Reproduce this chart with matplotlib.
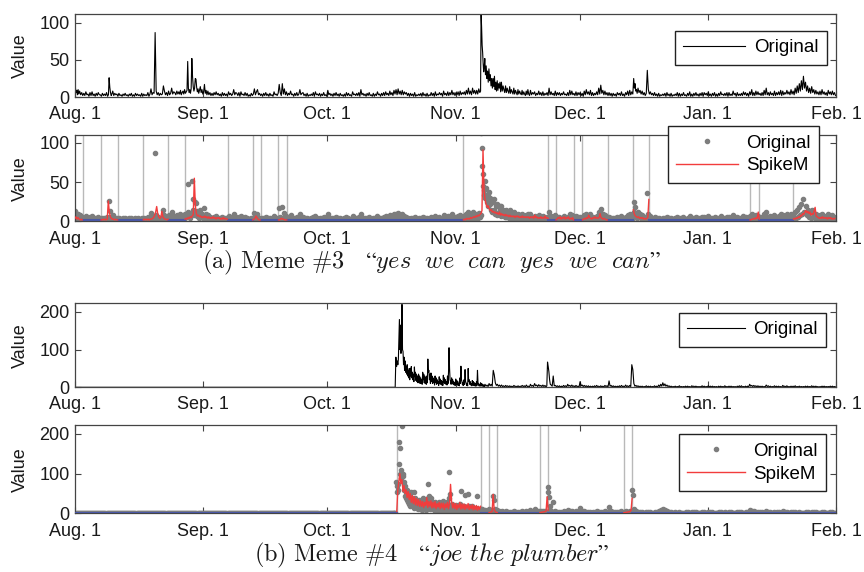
import numpy as np
import matplotlib
matplotlib.use("Agg")
import matplotlib.pyplot as plt
from matplotlib.lines import Line2D

plt.rcParams['font.family'] = ['Liberation Sans', 'DejaVu Sans']
plt.rcParams['mathtext.fontset'] = 'cm'

# ---------------- axis labels ----------------
month_ticks = [0, 31, 61, 92, 122, 153, 184]
month_labels = ['Aug. 1', 'Sep. 1', 'Oct. 1', 'Nov. 1', 'Dec. 1', 'Jan. 1', 'Feb. 1']
m3_yticks = [0, 50, 100]
m4_yticks = [0, 100, 200]

# ---------------- Meme #3 original counts (one row per day, Aug 1 .. Jan 31) ----------------
m3_rows = [
    # Aug
    [13, 6, 9, 3, 10, 4], [8, 3, 6, 2], [5, 2, 7, 3], [4, 1, 6, 2], [7, 2, 4, 1], [5, 2, 6, 3], [3, 1, 5, 2],
    [4, 2, 6, 1], [3, 26, 13, 6, 2, 4], [8, 2, 5, 3], [4, 1, 5, 2], [3, 1, 4, 2], [5, 2, 3, 1], [4, 2, 5, 1],
    [3, 1, 5, 2], [4, 2, 3, 1], [5, 1, 4, 2], [3, 2, 6, 1], [4, 11, 3, 6], [5, 87, 8, 3], [6, 2, 5, 3],
    [4, 15, 8, 3], [6, 2, 8, 3], [5, 12, 4, 7], [6, 3, 8, 4], [7, 4, 9, 3, 6], [8, 4, 10, 5, 7],
    [9, 48, 12, 6, 10, 5], [11, 52, 28, 14, 8, 12], [25, 24, 13, 7, 11, 5], [9, 14, 6, 10, 4],
    # Sep
    [7, 17, 5, 9, 3], [8, 3, 6, 2], [5, 2, 6, 3], [7, 3, 5, 2], [4, 1, 6, 2], [5, 2, 4, 1], [7, 3, 5, 2],
    [4, 10, 3, 6], [5, 2, 6, 1], [7, 3, 4, 2], [6, 2, 5, 1], [3, 1, 5, 2], [4, 11, 3, 7], [10, 3, 5, 2],
    [4, 1, 5, 2], [6, 2, 4, 1], [5, 2, 3, 1], [7, 3, 4, 2], [5, 17, 6, 2], [18, 4, 11, 3], [7, 2, 5, 3],
    [8, 3, 4, 1], [5, 2, 6, 2], [4, 10, 3, 5], [6, 2, 4, 1], [5, 1, 3, 2], [4, 2, 6, 1], [7, 3, 4, 2],
    [5, 1, 4, 2], [6, 2, 3, 1],
    # Oct
    [9, 3, 5, 2], [4, 1, 5, 2], [6, 2, 4, 1], [5, 2, 3, 1], [4, 1, 6, 2], [5, 2, 3, 1], [7, 3, 4, 2],
    [5, 2, 6, 1], [10, 3, 5, 2], [4, 1, 5, 2], [6, 2, 3, 1], [5, 1, 4, 2], [7, 3, 4, 1], [5, 2, 6, 2],
    [7, 3, 5, 2], [8, 3, 6, 2], [9, 4, 10, 3], [11, 4, 8, 3], [9, 3, 7, 4], [6, 2, 5, 1], [5, 2, 4, 1],
    [6, 1, 3, 2], [4, 2, 5, 1], [6, 2, 4, 1], [5, 1, 3, 2], [6, 2, 5, 1], [7, 2, 4, 3], [6, 3, 5, 1],
    [8, 3, 5, 2], [7, 2, 6, 3], [9, 3, 6, 2],
    # Nov
    [6, 3, 7, 2], [8, 3, 6, 4], [7, 3, 9, 4], [12, 4, 8, 3], [12, 5, 9, 4], [9, 4, 11, 6],
    [8, 113, 94, 70, 60, 45, 34, 40], [52, 30, 42, 25, 35, 20], [38, 22, 30, 15, 25, 12],
    [25, 14, 28, 10, 20, 8], [22, 9, 18, 12, 20, 7], [20, 8, 15, 10, 6], [15, 6, 12, 8, 5],
    [14, 5, 10, 7, 4], [12, 4, 9, 6, 3], [10, 4, 8, 5, 3], [9, 3, 7, 4, 2], [8, 3, 10, 4, 2],
    [9, 3, 6, 4], [7, 2, 5, 3], [8, 3, 6, 2], [7, 2, 5, 3], [6, 2, 12, 3], [7, 3, 5, 2], [8, 2, 6, 3],
    [6, 2, 5, 3], [7, 3, 4, 2], [6, 2, 9, 3], [8, 3, 5, 2], [7, 2, 6, 3],
    # Dec
    [6, 2, 5, 1], [8, 3, 10, 4], [7, 3, 9, 2], [6, 2, 5, 3], [7, 3, 12, 4], [16, 5, 9, 3], [8, 3, 6, 2],
    [6, 2, 5, 1], [5, 2, 4, 1], [6, 3, 5, 2], [7, 2, 4, 1], [6, 3, 8, 2], [9, 3, 7, 4],
    [25, 12, 18, 8, 10, 5], [12, 6, 9, 4], [8, 3, 6, 2], [5, 36, 10, 4], [7, 3, 5, 2], [6, 2, 4, 1],
    [5, 1, 3, 2], [4, 2, 5, 1], [6, 2, 4, 1], [5, 1, 3, 2], [4, 2, 6, 1], [5, 1, 4, 2], [6, 2, 3, 1],
    [5, 2, 7, 1], [4, 1, 5, 2], [6, 2, 4, 1], [5, 2, 6, 1], [6, 3, 5, 2],
    # Jan
    [7, 2, 4, 1], [5, 2, 6, 1], [4, 1, 5, 2], [7, 3, 4, 2], [5, 2, 6, 1], [6, 2, 4, 2], [8, 3, 5, 1],
    [6, 2, 4, 2], [5, 2, 7, 3], [6, 2, 5, 1], [7, 3, 10, 2], [6, 2, 8, 3], [7, 3, 5, 2], [6, 2, 9, 3],
    [12, 3, 6, 2], [7, 3, 5, 2], [8, 2, 6, 3], [7, 3, 9, 2], [8, 3, 6, 4], [9, 4, 7, 3], [10, 4, 8, 3],
    [12, 5, 15, 6], [18, 8, 22, 10], [28, 12, 20, 8], [15, 6, 12, 5], [14, 6, 10, 4], [9, 4, 7, 3],
    [8, 3, 10, 4], [7, 3, 6, 2], [9, 4, 7, 3], [8, 3, 6, 2],
]

# SpikeM fit of Meme #3: segment (start, end) in days and fitted values (4 per day)
m3_seg_bounds = [(0.0, 2.0), (6.3, 10.3), (16.5, 22.6), (26.6, 36.9), (43.0, 44.9), (49.2, 51.3),
                 (93.9, 114.4), (116.3, 120.6), (122.7, 128.9), (135.0, 138.8), (163.2, 165.5),
                 (173.7, 184.0)]
m3_seg_values = [
    [4, 6, 3, 5, 3, 2, 3, 2],
    [2, 2, 3, 2, 3, 2, 3, 26, 12, 6, 4, 3, 3, 2, 3, 2, 2],
    [2, 3, 2, 3, 2, 3, 2, 3, 3, 4, 5, 8, 12, 19, 10, 6, 4, 5, 13, 6, 4, 3, 3, 2, 3],
    [3, 4, 3, 5, 4, 6, 5, 7, 9, 55, 20, 10, 7, 8, 6, 7, 5, 6, 5, 7, 5, 6, 4, 6, 4, 5, 4, 6, 4, 5,
     3, 5, 4, 5, 3, 4, 3, 5, 3, 4, 3, 3],
    [2, 3, 4, 7, 5, 3, 2, 2],
    [2, 2, 3, 4, 3, 3, 2, 2, 2],
    [2, 3, 2, 4, 3, 4, 3, 5, 4, 5, 6, 5, 7, 6, 8, 7, 9, 10, 14, 91, 40, 28, 22, 18, 20, 16, 14, 15,
     12, 13, 11, 12, 10, 11, 9, 12, 8, 10, 8, 9, 7, 9, 7, 8, 6, 8, 6, 7, 6, 7, 5, 7, 6, 7, 5, 6, 5,
     7, 5, 6, 5, 6, 5, 6, 4, 6, 5, 6, 4, 8, 5, 6, 4, 5, 4, 6, 4, 5, 4, 7, 4, 5, 4],
    [2, 3, 5, 4, 6, 3, 5, 4, 6, 3, 5, 4, 6, 3, 4, 3, 5, 2],
    [2, 3, 4, 3, 5, 4, 8, 5, 4, 3, 5, 4, 6, 4, 5, 4, 5, 10, 5, 4, 3, 4, 3, 2, 2],
    [15, 9, 7, 6, 5, 6, 4, 5, 4, 5, 3, 4, 3, 4, 5, 28],
    [2, 2, 3, 3, 4, 3, 5, 4, 12, 3],
    [3, 4, 3, 5, 4, 6, 5, 8, 7, 10, 9, 12, 14, 11, 13, 10, 12, 8, 10, 9, 13, 18, 7, 6, 5, 4, 5, 4,
     6, 4, 5, 4, 5, 3, 5, 4, 5, 3, 4, 3, 4],
]
m3_noise_level = 2.5

# ---------------- Meme #4 original counts ----------------
m4_quiet_days = 77
m4_rows = [[0, 0, 0, 0]] * m4_quiet_days + [
    # Oct 17 ..
    [0, 0, 0, 80, 55, 70],
    [60, 75, 125, 180, 100, 165, 90, 110], [220, 100, 95, 60, 80, 45, 70, 40],
    [55, 35, 60, 30, 45, 25, 50, 20], [50, 30, 55, 25, 40, 20, 35, 15], [54, 28, 40, 18, 35, 15, 30, 12],
    [35, 15, 30, 10, 25, 12, 20, 8], [40, 20, 35, 12, 30, 10, 25, 8], [30, 12, 75, 40, 45, 20, 35, 10],
    [38, 15, 30, 10, 25, 12, 20, 6], [30, 12, 25, 8, 20, 10, 15, 5], [28, 10, 22, 8, 18, 6, 15, 5],
    [32, 12, 25, 10, 20, 8, 15, 6], [30, 10, 40, 105, 50, 20, 15, 8], [25, 10, 20, 8, 15, 6, 12, 5],
    [22, 8, 18, 6, 15, 5, 10, 4], [25, 10, 56, 20, 15, 6, 12, 5], [20, 8, 47, 15, 12, 5, 10, 4],
    [50, 15, 20, 8, 15, 6, 10, 4], [18, 6, 15, 5, 12, 4, 10, 3], [15, 5, 45, 12, 10, 4, 8, 3],
    [12, 4, 10, 3, 8, 3, 6, 2],
    # Nov 8 ..
    [8, 3, 6, 2], [10, 4, 8, 3], [45, 33, 12, 5], [8, 3, 6, 2], [6, 2, 4, 1], [5, 2, 4, 1], [4, 1, 3, 1],
    [5, 2, 3, 1], [4, 1, 3, 2], [5, 2, 4, 1], [6, 2, 3, 1], [8, 3, 5, 2], [10, 4, 6, 2], [7, 3, 5, 2],
    [6, 2, 5, 1], [4, 67, 55, 41, 20, 8], [6, 3, 30, 4], [5, 2, 4, 1], [4, 1, 3, 1], [5, 2, 4, 1],
    [8, 3, 5, 2], [6, 2, 4, 1], [5, 2, 3, 1],
    # Dec
    [15, 4, 6, 2], [5, 2, 4, 1], [4, 1, 3, 1], [3, 1, 4, 1], [5, 2, 3, 1], [4, 1, 3, 1], [5, 2, 4, 1],
    [17, 3, 5, 1], [4, 1, 3, 1], [3, 1, 4, 1], [5, 2, 3, 1], [6, 2, 4, 1], [5, 2, 60, 47], [10, 3, 5, 2],
    [4, 1, 3, 1], [3, 1, 2, 1], [4, 1, 3, 1], [3, 1, 2, 1], [4, 1, 3, 1], [6, 2, 8, 3], [12, 4, 9, 3],
    [6, 2, 4, 1], [3, 1, 2, 1], [3, 1, 2, 1], [4, 1, 2, 1], [2, 1, 3, 1], [3, 1, 2, 0], [4, 2, 3, 1],
    [3, 1, 2, 1], [2, 1, 4, 1], [3, 1, 2, 1],
    # Jan
    [4, 1, 3, 1], [3, 1, 2, 1], [2, 0, 3, 1], [3, 1, 2, 1], [4, 1, 2, 1], [3, 1, 3, 1], [2, 1, 2, 0],
    [3, 1, 4, 1], [4, 1, 2, 1], [3, 1, 3, 1], [8, 3, 5, 2], [5, 2, 4, 1], [4, 1, 3, 1], [3, 1, 2, 1],
    [6, 2, 4, 1], [3, 1, 2, 1], [4, 1, 3, 1], [3, 1, 2, 0], [5, 2, 3, 1], [4, 1, 2, 1], [3, 1, 3, 1],
    [4, 1, 2, 1], [3, 1, 2, 1], [2, 1, 3, 1], [3, 1, 2, 1], [4, 1, 3, 1], [3, 1, 2, 0], [2, 1, 3, 1],
    [3, 1, 2, 1], [2, 1, 3, 1], [3, 1, 2, 1],
]

m4_seg_bounds = [(77.8, 98.1), (100.1, 102.1), (112.4, 114.4), (132.7, 134.7)]
m4_seg_values = [
    [5, 60, 80, 100, 75, 85, 55, 70, 50, 60, 40, 55, 35, 50, 28, 45, 25, 42, 22, 38, 20, 35, 18, 32,
     18, 30, 15, 28, 20, 40, 15, 30, 18, 32, 14, 28, 15, 30, 12, 25, 16, 28, 12, 26, 14, 26, 10, 24,
     15, 28, 12, 25, 73, 30, 14, 26, 12, 25, 10, 22, 14, 28, 11, 24, 12, 24, 10, 22, 13, 25, 10, 20,
     12, 22, 9, 20, 10, 20, 8, 18, 10, 18],
    [2, 3, 4, 5, 48, 10, 5, 3, 2],
    [2, 3, 3, 4, 4, 5, 6, 42, 8],
    [2, 2, 3, 3, 4, 4, 5, 8, 38],
]
m4_noise_level = 1.0

assert len(m3_rows) == 184, len(m3_rows)
assert len(m4_rows) == 184, len(m4_rows)

# ---------------- styling ----------------
C_DOT = '#7d7d7d'
C_RED = '#f23c3c'
C_BLUE = '#4a58a6'
C_VLINE = '#b9b9b9'
C_SPINE = '#444444'
STEP = 0.25


def flatten(rows):
    t, v = [], []
    for d, row in enumerate(rows):
        n = len(row)
        for j, val in enumerate(row):
            t.append(d + (j + 0.5) / n)
            v.append(val)
    return np.array(t), np.array(v, dtype=float)


def style_axes(ax, ylim, yticks):
    ax.set_xlim(month_ticks[0], month_ticks[-1])
    ax.set_ylim(*ylim)
    ax.set_xticks(month_ticks)
    ax.set_xticklabels(month_labels)
    ax.set_yticks(yticks)
    ax.tick_params(direction='in', top=True, right=True, length=4, width=0.8,
                   color=C_SPINE, labelcolor='#1a1a1a', labelsize=13)
    ax.tick_params(axis='x', pad=6.5)
    ax.tick_params(axis='y', pad=4)
    for s in ax.spines.values():
        s.set_color(C_SPINE)
        s.set_linewidth(0.9)
    ax.set_ylabel('Value', fontsize=13, color='#1a1a1a')
    ax.yaxis.set_label_coords(-0.061, 0.5)


def make_legend(ax, handles, labels, anchor, hlen):
    leg = ax.legend(handles, labels, loc='upper right', bbox_to_anchor=anchor,
                    bbox_transform=ax.figure.transFigure, fontsize=13.5, handlelength=hlen,
                    handletextpad=0.45, borderpad=0.45, labelspacing=0.3, borderaxespad=0,
                    fancybox=False, framealpha=1, edgecolor='#222222', numpoints=1)
    leg.get_frame().set_linewidth(1.0)
    return leg


def draw_fit(ax, rows, seg_bounds, seg_values, noise_level, anchor, hlen):
    t, v = flatten(rows)
    for (a, b) in seg_bounds:
        for x in (a, b):
            if month_ticks[0] < x < month_ticks[-1]:
                ax.axvline(x, color=C_VLINE, lw=1.0, zorder=1)
    ax.plot(t, v, ls='none', marker='o', ms=3.0, color=C_DOT, mec=C_DOT, zorder=2)
    # baseline (noise) outside segments
    edges = [month_ticks[0]]
    for (a, b) in seg_bounds:
        edges += [a, b]
    edges.append(month_ticks[-1])
    for k in range(0, len(edges), 2):
        a, b = edges[k], edges[k + 1]
        if b > a:
            ax.plot([a, b], [noise_level, noise_level], color=C_BLUE, lw=1.5, zorder=3)
    for (a, b), vals in zip(seg_bounds, seg_values):
        ts = a + STEP * np.arange(len(vals))
        ax.plot(ts, vals, color=C_RED, lw=1.0, zorder=4)
    handles = [Line2D([], [], ls='none', marker='o', ms=3.0, color=C_DOT),
               Line2D([], [], color=C_RED, lw=1.0)]
    make_legend(ax, handles, ['Original', 'SpikeM'], anchor, hlen)


fig = plt.figure(figsize=(8.64, 5.72), dpi=100)
ax1 = fig.add_axes([0.0868, 0.8304, 0.8808, 0.1451])
ax2 = fig.add_axes([0.0868, 0.6128, 0.8808, 0.1512])
ax3 = fig.add_axes([0.0868, 0.3229, 0.8808, 0.1469])
ax4 = fig.add_axes([0.0868, 0.1023, 0.8808, 0.1547])

# Meme 3
t, v = flatten(m3_rows)
ax1.plot(t, v, color='black', lw=0.8)
make_legend(ax1, [Line2D([], [], color='black', lw=0.8)], ['Original'], (0.9568, 0.9463), 3.3)
style_axes(ax1, (0, 112), m3_yticks)

draw_fit(ax2, m3_rows, m3_seg_bounds, m3_seg_values, m3_noise_level, (0.9483, 0.7797), 3.3)
style_axes(ax2, (0, 110), m3_yticks)

# Meme 4
t, v = flatten(m4_rows)
ax3.plot(t, v, color='black', lw=0.8)
make_legend(ax3, [Line2D([], [], color='black', lw=0.8)], ['Original'], (0.956, 0.4533), 3.05)
style_axes(ax3, (0, 223), m4_yticks)

draw_fit(ax4, m4_rows, m4_seg_bounds, m4_seg_values, m4_noise_level, (0.956, 0.2407), 3.05)
style_axes(ax4, (0, 222), m4_yticks)

fig.text(0.5, 0.542, r'$\mathrm{(a)\ Meme\ \#3}\ \ \ \mathit{“yes\ \ we\ \ can\ \ yes\ \ we\ \ can”}$',
         ha='center', va='center', fontsize=17.5, color='#1a1a1a')
fig.text(0.5, 0.0297, r'$\mathrm{(b)\ Meme\ \#4}\ \ \ \mathit{“joe\ the\ plumber”}$',
         ha='center', va='center', fontsize=17.5, color='#1a1a1a')

fig.savefig('out.png', dpi=100)
